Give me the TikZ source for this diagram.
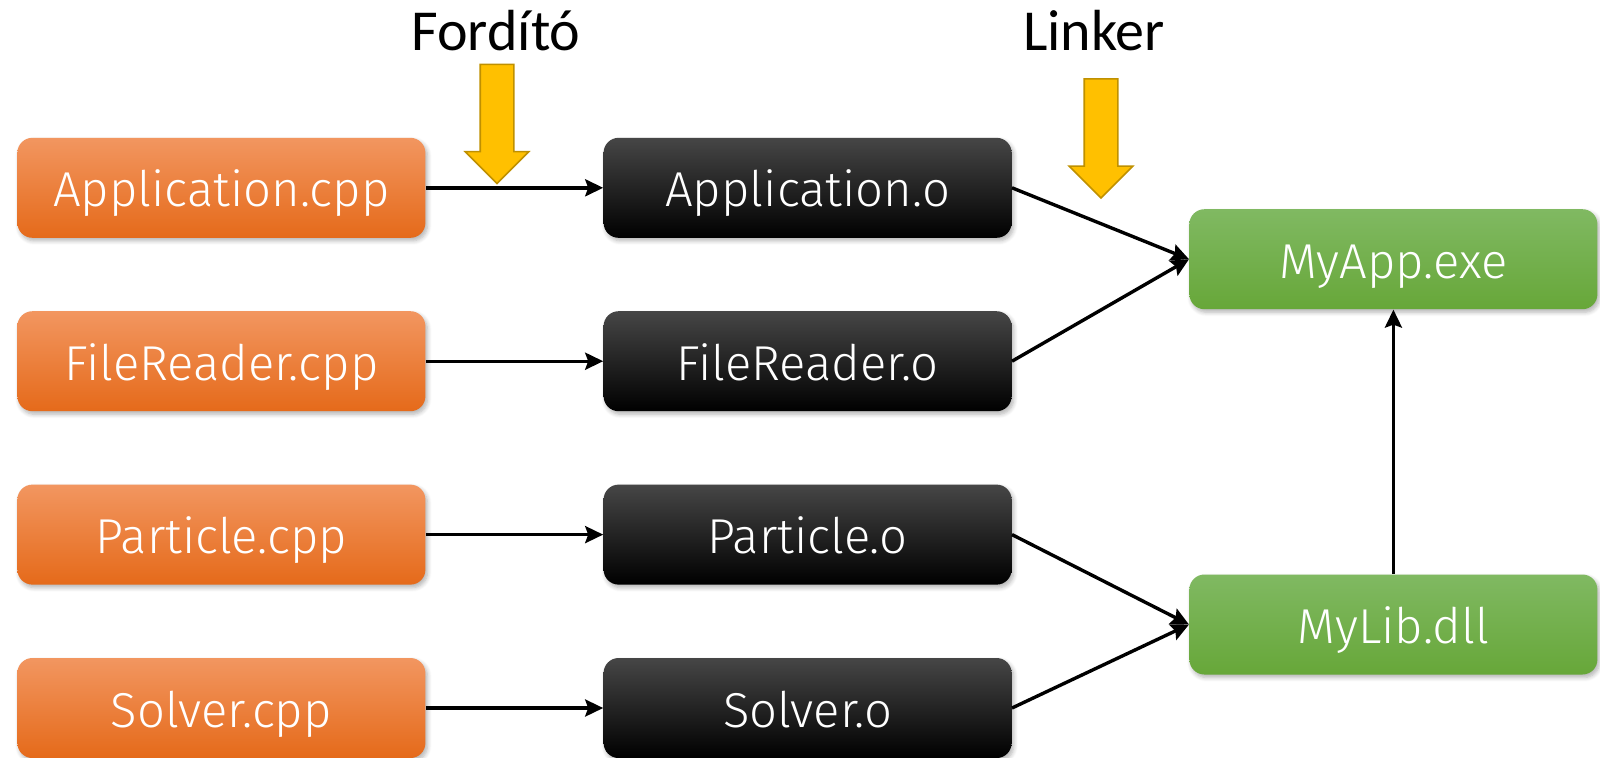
\documentclass[tikz,border=0pt]{standalone}
\usepackage{fontspec}
\setmainfont{Fira Sans Light}
\newfontfamily\labelfont{Carlito}
\usetikzlibrary{arrows.meta, shapes, shapes.arrows, positioning, shadows.blur}
\definecolor{srctop}{HTML}{F29660}
\definecolor{srcmid}{HTML}{F47B2C}
\definecolor{srcbot}{HTML}{E56A1A}
\definecolor{objtop}{HTML}{464646}
\definecolor{bintop}{HTML}{80B962}
\definecolor{binbot}{HTML}{67A739}
\definecolor{yelfill}{HTML}{FFC000}
\definecolor{yeldraw}{HTML}{BF9000}
\tikzset{%
    nodesty/.style={
        rounded corners=7.5pt,
        align=center,
        inner sep=0pt,
        minimum height=50pt,
        minimum width=204pt,
        text height=23pt,
        text depth=4pt,
        text=white,
        font=\fontsize{24.5}{28}\selectfont,
        blur shadow={shadow xshift=1pt, shadow yshift=-1.5pt, shadow opacity=30, shadow blur steps=6},
    },
    srcsty/.style={
        nodesty,
        top color=srctop, middle color=srcmid, bottom color=srcbot,
    },
    objsty/.style={
        nodesty,
        top color=objtop, middle color=black, bottom color=black,
    },
    binsty/.style={
        nodesty,
        top color=bintop, bottom color=binbot,
    },
    linksty/.style={
        line width=1.7pt,
        -{Stealth[length=9pt,width=8.5pt,inset=1.5pt]},
    },
    yelsty/.style={
        single arrow,
        draw=yeldraw,
        fill=yelfill,
        line width=0.8pt,
        inner xsep=0pt,
        inner ysep=8pt,
        single arrow head extend=7.5pt,
        single arrow head indent=0pt,
        minimum height=59.5pt,
        rotate=-90,
    },
    toolsty/.style={
        anchor=base,
        font=\labelfont\fontsize{29}{32}\selectfont,
    },
}

\begin{document}
\begin{tikzpicture}[x=0.5pt,y=-0.5pt]
\useasboundingbox (0,0) rectangle (1600,757);

% source files
\node (appcpp) [srcsty] at (221.4,187.8) {Application.cpp};
\node (readcpp) [srcsty,below=36.3pt of appcpp] {FileReader.cpp};
\node (partcpp) [srcsty,below=36.3pt of readcpp] {Particle.cpp};
\node (solvcpp) [srcsty,below=36.3pt of partcpp] {Solver.cpp};

% object files
\node (appo) [objsty,right=88.7pt of appcpp] {Application.o};
\node (reado) [objsty,right=88.7pt of readcpp] {FileReader.o};
\node (parto) [objsty,right=88.7pt of partcpp] {Particle.o};
\node (solvo) [objsty,right=88.7pt of solvcpp] {Solver.o};

% linked
\node (myapp) [binsty] at (1393.4,259.2) {MyApp.exe};
\node (mylib) [binsty] at (1393.4,624.5) {MyLib.dll};

% tools
\node (fordlbl) [toolsty] at (496,50) {Fordító};
\node (linklbl) [toolsty] at (1094,50) {Linker};
\node (fordarr) [yelsty] at (497,115.5) {};
\node (linkarr) [yelsty] at (1101,130) {};

\draw [linksty] (appcpp) -- (appo);
\draw [linksty] (readcpp) -- (reado);
\draw [linksty] (partcpp) -- (parto);
\draw [linksty] (solvcpp) -- (solvo);

\draw [linksty] (appo.east) -- (myapp.west);
\draw [linksty] (reado.east) -- (myapp.west);
\draw [linksty] (parto.east) -- (mylib.west);
\draw [linksty] (solvo.east) -- (mylib.west);
\draw [linksty] (mylib) -- (myapp);

\end{tikzpicture}
\end{document}
